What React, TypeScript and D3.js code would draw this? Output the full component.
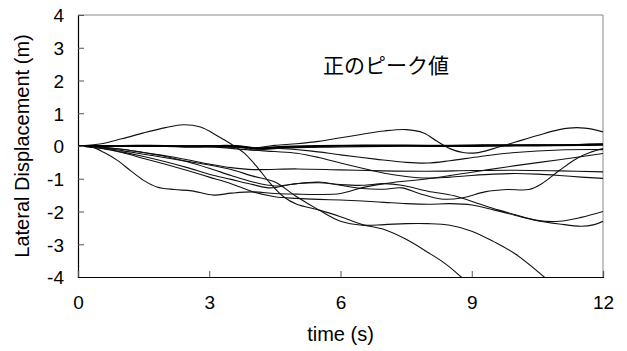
import { useEffect, useRef } from "react";
import * as d3 from "d3";

type Pt = [number, number];

// time (s), lateral displacement (m)
const runBold: Pt[] = [[0,0],[1,0],[2,0],[2.7,-0.02],[3.2,0],[3.7,-0.01],[4.1,-0.08],[4.6,-0.03],[5.5,0],[6.5,0.01],[7.5,0.01],[8.5,0],[9.5,0.01],[10.5,0.02],[11.5,0.03],[12,0.04]];
const runNearZero: Pt[] = [[0,0],[2,0],[3,-0.01],[3.6,0],[4,-0.12],[4.5,-0.08],[5,-0.05],[6,-0.03],[7,-0.01],[8,0.01],[9,0.03],[10,0.04],[11,0.04],[12,0.07]];
const runLateHump: Pt[] = [[0,0],[2,0],[3,0.01],[3.6,-0.02],[4,-0.06],[4.5,0.02],[5,0.07],[5.5,0.14],[6,0.25],[6.5,0.36],[7,0.46],[7.5,0.5],[7.9,0.4],[8.2,0.15],[8.5,-0.08],[8.8,-0.2],[9.1,-0.21],[9.5,-0.08],[10,0.12],[10.5,0.32],[11,0.5],[11.4,0.56],[11.8,0.5],[12,0.43]];
const runSlowDip: Pt[] = [[0,0],[2,0],[3,-0.02],[3.8,-0.05],[4.5,-0.07],[5.3,-0.15],[6,-0.27],[6.8,-0.4],[7.5,-0.5],[8,-0.52],[8.5,-0.45],[9.2,-0.32],[10,-0.2],[11,-0.12],[12,-0.11]];
const runLateDrop: Pt[] = [[0,0],[2,0],[3,-0.02],[3.9,-0.12],[4.5,-0.17],[5,-0.22],[5.5,-0.35],[6,-0.52],[6.5,-0.68],[7,-0.83],[7.5,-0.93],[8,-0.98],[8.5,-0.95],[9,-0.9],[9.5,-0.86],[10,-0.84],[10.5,-0.86],[11,-0.9],[11.5,-0.95],[12,-0.99]];
const runFlat: Pt[] = [[0,0],[0.5,-0.04],[1,-0.1],[1.5,-0.2],[2,-0.3],[2.5,-0.42],[3,-0.55],[3.5,-0.66],[4,-0.72],[5,-0.7],[6,-0.73],[7,-0.76],[8,-0.77],[9,-0.75],[10,-0.74],[11,-0.76],[12,-0.79]];
const runEarlyHump: Pt[] = [[0,0],[0.5,0.06],[1,0.22],[1.5,0.4],[2,0.56],[2.4,0.65],[2.8,0.58],[3.2,0.3],[3.5,0.06],[3.8,-0.22],[4.1,-0.65],[4.4,-1.15],[4.7,-1.55],[5,-1.78],[5.5,-1.95],[6,-2.16],[6.5,-2.4],[7,-2.55],[7.5,-2.85],[8,-3.25],[8.4,-3.6],[8.8,-4.05]];
const runPlateau: Pt[] = [[0,0],[0.5,-0.05],[1,-0.14],[1.5,-0.25],[2,-0.36],[2.5,-0.47],[3,-0.58],[3.5,-0.72],[4,-0.92],[4.5,-1.1],[5,-1.55],[5.5,-1.95],[6,-2.3],[6.5,-2.42],[7,-2.4],[7.5,-2.37],[8,-2.37],[8.5,-2.42],[9,-2.6],[9.5,-2.92],[10,-3.3],[10.7,-4.05]];
const runLowEarly: Pt[] = [[0,0],[0.3,-0.02],[0.6,-0.2],[0.9,-0.44],[1.2,-0.75],[1.5,-1.05],[1.8,-1.25],[2.2,-1.33],[2.6,-1.37],[3.1,-1.5],[3.5,-1.44],[4,-1.4],[4.5,-1.45],[5,-1.47],[5.5,-1.48],[6,-1.45],[6.5,-1.27],[7,-1.15],[7.5,-1.07],[8,-1.0],[9,-0.8],[10,-0.6],[11,-0.42],[12,-0.23]];
const runRecover: Pt[] = [[0,0],[0.5,-0.06],[1,-0.18],[1.5,-0.32],[2,-0.48],[2.5,-0.66],[3,-0.86],[3.5,-1.02],[4,-1.18],[4.4,-1.28],[4.9,-1.17],[5.5,-1.1],[6,-1.2],[6.5,-1.3],[7,-1.32],[7.4,-1.28],[7.8,-1.45],[8.3,-1.62],[8.8,-1.58],[9.3,-1.4],[9.8,-1.33],[10.3,-1.33],[10.6,-1.15],[11,-0.75],[11.4,-0.38],[11.7,-0.2],[12,-0.08]];
const runWavyLow: Pt[] = [[0,0],[0.5,-0.03],[1,-0.1],[1.5,-0.2],[2,-0.32],[2.5,-0.48],[3,-0.68],[3.5,-0.9],[4,-1.1],[4.5,-1.22],[5,-1.15],[5.5,-1.12],[6,-1.18],[6.5,-1.2],[7,-1.15],[7.4,-1.2],[8,-1.38],[8.6,-1.52],[9.2,-1.78],[9.6,-1.95],[10,-2.1],[10.5,-2.27],[11,-2.3],[11.5,-2.18],[12,-2.0]];
const runDeep: Pt[] = [[0,0],[0.5,-0.07],[1,-0.2],[1.5,-0.38],[2,-0.56],[2.5,-0.75],[3,-0.95],[3.5,-1.15],[4,-1.4],[4.5,-1.55],[5,-1.6],[5.5,-1.63],[6,-1.65],[6.5,-1.68],[7,-1.72],[7.5,-1.76],[8,-1.78],[8.5,-1.76],[9,-1.8],[9.5,-1.95],[10,-2.12],[10.5,-2.28],[11,-2.38],[11.5,-2.45],[11.8,-2.4],[12,-2.3]];

const thinRuns: Pt[][] = [runNearZero, runLateHump, runSlowDip, runLateDrop, runFlat, runEarlyHump, runPlateau, runLowEarly, runRecover, runWavyLow, runDeep];

const xTicks = [0, 3, 6, 9, 12];
const yTicks = [-4, -3, -2, -1, 0, 1, 2, 3, 4];

export default function App() {
  const svgRef = useRef<SVGSVGElement>(null);

  useEffect(() => {
    const W = 627;
    const H = 351;
    const margin = { top: 15, right: 24, bottom: 74, left: 78 };
    const innerW = W - margin.left - margin.right;
    const innerH = H - margin.top - margin.bottom;
    const font = "'Liberation Sans', Arial, sans-serif";

    const svg = d3.select(svgRef.current).attr("width", W).attr("height", H);
    svg.selectAll("*").remove();
    svg.append("rect").attr("width", W).attr("height", H).attr("fill", "#fff");

    const g = svg.append("g").attr("transform", `translate(${margin.left},${margin.top})`);

    const x = d3.scaleLinear().domain([0, 12]).range([0, innerW]);
    const y = d3.scaleLinear().domain([-4, 4]).range([innerH, 0]);

    svg
      .append("defs")
      .append("clipPath")
      .attr("id", "plot-clip")
      .append("rect")
      .attr("width", innerW)
      .attr("height", innerH);

    // grey frame on top / right
    g.append("line")
      .attr("x1", 0).attr("x2", innerW).attr("y1", 0).attr("y2", 0)
      .attr("stroke", "#8a8a8a").attr("stroke-width", 1);
    g.append("line")
      .attr("x1", innerW).attr("x2", innerW).attr("y1", 0).attr("y2", innerH)
      .attr("stroke", "#8a8a8a").attr("stroke-width", 1);

    const line = d3
      .line<Pt>()
      .x((d) => x(d[0]))
      .y((d) => y(d[1]))
      .curve(d3.curveCatmullRom.alpha(0.5));

    const lines = g.append("g").attr("clip-path", "url(#plot-clip)");
    thinRuns.forEach((run) => {
      lines.append("path")
        .datum(run)
        .attr("fill", "none")
        .attr("stroke", "#111")
        .attr("stroke-width", 1.1)
        .attr("d", line);
    });
    lines.append("path")
      .datum(runBold)
      .attr("fill", "none")
      .attr("stroke", "#000")
      .attr("stroke-width", 2.2)
      .attr("d", line);

    // y axis: inward ticks
    const yAxis = g.append("g")
      .call(d3.axisLeft(y).tickValues(yTicks).tickSize(-6).tickPadding(14).tickFormat(d3.format("d")));
    yAxis.select(".domain").attr("stroke", "#000").attr("stroke-width", 1.2);
    yAxis.selectAll(".tick line").attr("stroke", "#555");
    yAxis.selectAll("text")
      .style("font-family", font)
      .style("font-size", "19px")
      .attr("fill", "#000")
      .text((d) => String(d))
      .attr("dy", "0.36em");

    // x axis: inward ticks
    const xAxis = g.append("g")
      .attr("transform", `translate(0,${innerH})`)
      .call(d3.axisBottom(x).tickValues(xTicks).tickSize(-6).tickPadding(19).tickFormat(d3.format("d")));
    xAxis.select(".domain").attr("stroke", "#000").attr("stroke-width", 1.2);
    xAxis.selectAll(".tick line").attr("stroke", "#555");
    xAxis.selectAll("text")
      .style("font-family", font)
      .style("font-size", "19px")
      .attr("fill", "#000");

    svg.append("text")
      .attr("x", margin.left + x(6))
      .attr("y", 341)
      .attr("text-anchor", "middle")
      .style("font-family", font)
      .style("font-size", "20px")
      .text("time (s)");

    svg.append("text")
      .attr("transform", `translate(29,${margin.top + y(0)}) rotate(-90)`)
      .attr("text-anchor", "middle")
      .style("font-family", font)
      .style("font-size", "20px")
      .text("Lateral Displacement (m)");

    svg.append("text")
      .attr("x", margin.left + x(5.6))
      .attr("y", 73)
      .style("font-family", "'Noto Sans CJK JP', sans-serif")
      .style("font-size", "21px")
      .text("正のピーク値");
  }, []);

  return <svg ref={svgRef} style={{ position: "absolute", left: 0, top: 0 }} />;
}
